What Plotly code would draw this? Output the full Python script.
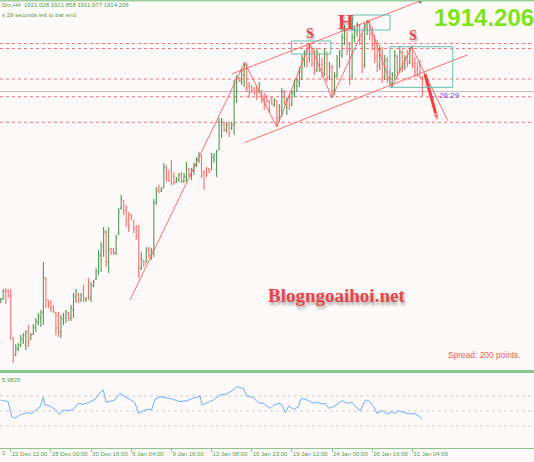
import plotly.graph_objects as go

# ---------------- data (XAUUSD H4) ----------------
opens = [1809, 1810.5, 1814.5, 1814.5, 1812, 1791, 1782.5, 1785.5, 1787.5, 1790,
         1787.5, 1794, 1790, 1793, 1796, 1799, 1801, 1803.5, 1820.5, 1810,
         1808.5, 1806.5, 1803.5, 1802, 1794, 1800, 1801, 1803.5, 1801, 1805,
         1811, 1813, 1810, 1815, 1810, 1817.5, 1811, 1817, 1820.5, 1824,
         1832, 1836.5, 1844, 1829, 1835.5, 1835, 1833.5, 1843, 1856, 1859.5,
         1855, 1850, 1852.5, 1849.5, 1846, 1842.5, 1826, 1830, 1829, 1835,
         1832.5, 1834.5, 1859, 1865, 1864.5, 1866, 1876, 1872.5, 1874, 1872,
         1869, 1870, 1873, 1869.5, 1871.5, 1875.5, 1872, 1874.5, 1877.5, 1880,
         1882, 1874, 1874, 1875.5, 1875, 1881, 1875, 1885, 1897.5, 1898,
         1895, 1897.5, 1896, 1897.5, 1915, 1921, 1919.5, 1922.5, 1927, 1917,
         1916.5, 1915.5, 1915, 1914, 1914.5, 1911.5, 1911.5, 1909, 1910.5, 1907.5,
         1909.5, 1901, 1905, 1914, 1906, 1911.5, 1908, 1913, 1917, 1919,
         1924, 1930, 1935, 1931, 1936, 1930, 1925, 1932.5, 1927.5, 1923.5,
         1932.5, 1921.5, 1926, 1915, 1922.5, 1930, 1932.5, 1941, 1945, 1935,
         1922, 1941, 1944, 1947, 1940, 1928, 1946, 1949, 1943, 1938,
         1932, 1927.5, 1934, 1922, 1930, 1921, 1918.5, 1922, 1931.5, 1925,
         1933.5, 1926.5, 1931.5, 1929, 1936, 1928.5, 1925, 1927, 1921.028]
highs = [1811, 1815.5, 1816, 1815.5, 1815.5, 1791.5, 1788, 1788.5, 1792.5, 1793.5,
         1795, 1797.5, 1793.5, 1798, 1801, 1803.5, 1805, 1829, 1821.5, 1810,
         1810, 1807.5, 1804, 1804, 1802.5, 1803.5, 1805, 1804, 1807.5, 1813.5,
         1815.5, 1813.5, 1813.5, 1817.5, 1811.5, 1821, 1819, 1820, 1826, 1835,
         1839, 1846.5, 1845, 1846.5, 1836, 1836, 1842.5, 1856, 1862.5, 1860,
         1857.5, 1854, 1853, 1850, 1847.5, 1847.5, 1834, 1830, 1836.5, 1836.5,
         1836, 1860.5, 1866.5, 1867.5, 1866.5, 1878.5, 1877.5, 1875, 1880, 1874,
         1871.5, 1873.5, 1874, 1873.5, 1879, 1876, 1876, 1878.5, 1881.5, 1884,
         1882.5, 1875, 1876.5, 1876, 1883.5, 1883.5, 1885, 1901, 1901, 1898.5,
         1899, 1898.5, 1899, 1920, 1922.5, 1921.5, 1926, 1929, 1928.5, 1919,
         1917.5, 1916.5, 1917.5, 1919, 1915, 1913.5, 1912.5, 1910, 1911.5, 1911,
         1910, 1908, 1916, 1915, 1911.5, 1913, 1915, 1920, 1921, 1926.5,
         1932.5, 1935, 1937.5, 1938.5, 1936.5, 1935, 1936, 1933.5, 1931, 1936,
         1934, 1929, 1927.5, 1924, 1932.5, 1935, 1943.5, 1947.5, 1946, 1939,
         1943.5, 1946.5, 1949, 1948, 1943.5, 1948.5, 1950, 1949.5, 1946.5, 1942.5,
         1940, 1937.5, 1936.5, 1932.5, 1931.5, 1925, 1924, 1935, 1932.5, 1936.5,
         1935, 1932.5, 1935, 1936.5, 1937.5, 1931.5, 1929, 1930, 1921.858]
lows = [1808.5, 1810, 1808, 1811, 1790, 1778.5, 1782, 1784.5, 1786.5, 1788,
        1785, 1786.5, 1790, 1792.5, 1794, 1797.5, 1796.5, 1797.5, 1806, 1806,
        1804, 1803.5, 1792.5, 1791.5, 1791, 1797.5, 1798.5, 1799.5, 1799.5, 1801,
        1808.5, 1808.5, 1809, 1809, 1809, 1810, 1809, 1816.5, 1820, 1822.5,
        1824, 1831.5, 1826.5, 1823.5, 1832.5, 1832.5, 1832.5, 1842.5, 1855, 1852.5,
        1846.5, 1844, 1850, 1843.5, 1840, 1821, 1825, 1826.5, 1828.5, 1831,
        1830, 1831.5, 1857.5, 1863.5, 1864, 1866, 1869, 1869, 1867.5, 1867.5,
        1868.5, 1869, 1868.5, 1868.5, 1869, 1871.5, 1870, 1872.5, 1876.5, 1878.5,
        1871, 1865, 1871.5, 1873.5, 1875, 1878.5, 1871.5, 1885, 1891, 1894,
        1893.5, 1891.5, 1895, 1892.5, 1908.5, 1919, 1917.5, 1916.5, 1914, 1911,
        1913.5, 1912.5, 1910, 1913.5, 1908.5, 1905, 1908.5, 1903.5, 1907.5, 1906.5,
        1896.5, 1899, 1901.5, 1907.5, 1902.5, 1905, 1907, 1911.5, 1914, 1916.5,
        1920, 1926.5, 1926.5, 1929, 1926.5, 1922.5, 1924, 1924, 1921, 1922,
        1919, 1920, 1911, 1912.5, 1921, 1926, 1931, 1937.5, 1932.5, 1917.5,
        1920, 1939, 1941.5, 1937.5, 1923.5, 1926, 1942.5, 1940, 1935, 1928.5,
        1924, 1925, 1918.5, 1920, 1918.5, 1917.5, 1916.5, 1920, 1921.5, 1923.5,
        1924, 1925, 1926.5, 1928, 1926, 1921.5, 1921.5, 1921, 1911.977]
closes = [1810.5, 1814.5, 1810, 1812, 1792.5, 1782.5, 1786, 1787.5, 1791, 1792.5,
          1793.5, 1789, 1792.5, 1796.5, 1799.5, 1802, 1804, 1821, 1810, 1807.5,
          1805.5, 1804.5, 1796, 1794, 1801, 1802.5, 1804, 1801, 1806, 1812,
          1814.5, 1810, 1812.5, 1810.5, 1811, 1811.5, 1817.5, 1819, 1824.5, 1832.5,
          1837.5, 1844, 1829, 1835, 1834, 1833.5, 1841, 1854, 1860.5, 1854.5,
          1849, 1846.5, 1851, 1845.5, 1842, 1826, 1831, 1828, 1835, 1832.5,
          1834.5, 1858.5, 1864.5, 1864, 1865.5, 1876.5, 1871, 1870, 1868.5, 1869,
          1870.5, 1872.5, 1869.5, 1872, 1877, 1872.5, 1875, 1877.5, 1880, 1882.5,
          1872.5, 1867, 1872.5, 1874, 1881.5, 1882.5, 1884, 1899, 1899.5, 1895,
          1897.5, 1893.5, 1898, 1917, 1921, 1919.5, 1924.5, 1927.5, 1916, 1914,
          1914.5, 1913.5, 1912, 1917.5, 1910, 1907.5, 1909.5, 1905, 1908, 1910,
          1901, 1906.5, 1914, 1909, 1910, 1907, 1913.5, 1918.5, 1920, 1925,
          1931, 1933.5, 1929, 1936.5, 1928.5, 1925, 1934, 1926, 1922.5, 1934,
          1921, 1927, 1914, 1922, 1931, 1933.5, 1941.5, 1946, 1935, 1921,
          1941.5, 1945, 1947.5, 1940, 1927.5, 1946.5, 1949, 1942.5, 1937.5, 1931,
          1927, 1935, 1921, 1930, 1920, 1918.5, 1922.5, 1932.5, 1924, 1934,
          1926, 1931, 1928.5, 1935, 1928, 1924, 1922.5, 1921.25, 1914.206]
bar_idx = list(range(len(opens)))
assert len(opens) == len(highs) == len(lows) == len(closes) == 169

tick_idx = [4, 20, 36, 52, 68, 84, 100, 116, 132, 148, 164]
tick_text = ["22 Dec 12:00", "28 Dec 00:00", "30 Dec 16:00", "5 Jan 04:00",
             "9 Jan 16:00", "12 Jan 08:00", "16 Jan 23:00", "19 Jan 12:00",
             "24 Jan 00:00", "26 Jan 16:00", "31 Jan 04:00"]

levels = [1938.25, 1935.75, 1920.5, 1911.65, 1898.85]
bid = 1914.206

steep_idx, steep_px = [51.5, 97.3], [1810, 1929]
chup_idx, chup_px = [92.0, 167.1], [1923, 1959.5]
chlo_idx, chlo_px = [97.1, 185.8], [1888.65, 1932.5]
zig_idx = [97.3, 110, 123.2, 131.9, 146.3, 155.8, 163.8, 178.2]
zig_px = [1928.5, 1896.5, 1938.5, 1911, 1950, 1916.5, 1936.5, 1899.5]
arrow_idx, arrow_px = [169.0, 174.2], [1923, 1899]
box_x0 = [115.9, 140.2, 155.1]
box_x1 = [131.5, 155.1, 180.1]
box_y0 = [1933, 1945, 1916.35]
box_y1 = [1939.5, 1952.5, 1936.65]
pat_text = ["S", "H", "S"]
pat_idx = [123.2, 137.6, 164.1]
pat_px = [1943.2, 1949.25, 1942.35]
pat_size = [14, 20, 14]

ind_idx = [0, 3.0, 4.4, 5.7, 7.7, 10.4, 12.4, 13.7, 15.7, 17.0, 17.6, 19.6, 21.6, 23.4,
           24.9, 26.9, 28.9, 30.9, 32.9, 34.9, 37.6, 39.6, 40.9, 42.0, 44.2, 45.5,
           47.5, 49.5, 51.5, 53.5, 54.8, 56.2, 58.2, 60.2, 61.5, 63.5, 66.1, 68.8,
           71.4, 74.1, 76.7, 79.4, 80.3, 82.1, 84.7, 87.4, 90.0, 92.7, 94.0, 96.7,
           98.0, 100.6, 102.6, 104.6, 107.4, 108.8, 110.8, 112.1, 113.4, 114.7,
           116.7, 118.7, 119.4, 120.7, 122.7, 124.7, 126.0, 128.0, 129.3, 130.7,
           132.7, 136.0, 138.0, 140.0, 142.0, 143.3, 145.3, 146.6, 148.6, 149.9,
           151.9, 153.9, 155.9, 157.2, 158.6, 160.6, 162.6, 164.6, 166.5, 168]
ind_val = [64.7, 62.5, 42.5, 40.3, 44.7, 47.8, 46.9, 50.5, 55.8, 68.2, 58.0, 56.7, 52.2, 45.6,
           51.3, 50.5, 52.2, 60.2, 58.9, 61.1, 65.6, 74.5, 78.0, 61.6, 63.4, 64.7,
           73.6, 69.1, 65.6, 61.1, 46.9, 49.1, 52.2, 52.2, 65.6, 69.1, 67.8, 65.6,
           62.5, 63.8, 66.9, 70.0, 58.0, 61.1, 64.7, 71.4, 72.7, 78.0, 82.5, 80.2,
           70.0, 68.2, 61.1, 60.2, 53.6, 58.0, 60.2, 58.0, 47.8, 56.7,
           52.2, 55.8, 65.6, 66.9, 63.8, 60.2, 62.0, 59.4, 60.2, 53.6,
           55.8, 63.8, 60.2, 61.6, 53.6, 50.5, 64.7, 63.8, 55.8, 46.9,
           50.5, 46.0, 49.1, 46.9, 50.5, 48.2, 46.0, 46.9, 43.4, 38.9]
ind_levels = [70, 50, 30]

# ---------------- figure ----------------
BG = "#fffafa"
GREEN_T = "#4f9f4f"
PLOT_H = 448.0
main_bottom = 1 - 370 / PLOT_H
ind_top = 1 - 373 / PLOT_H

fig = go.Figure()

fig.add_trace(go.Ohlc(
    x=bar_idx, open=opens, high=highs, low=lows, close=closes,
    increasing=dict(line=dict(color="rgba(55,135,55,0.85)", width=1.1)),
    decreasing=dict(line=dict(color="rgba(255,95,95,0.9)", width=1.1)),
    tickwidth=0.45, xaxis="x", yaxis="y", hoverinfo="skip", showlegend=False))

line_red = dict(color="rgba(255,85,85,0.85)", width=1)
for xs, ys in [(steep_idx, steep_px), (chup_idx, chup_px), (chlo_idx, chlo_px), (zig_idx, zig_px)]:
    fig.add_trace(go.Scatter(x=xs, y=ys, mode="lines", line=line_red,
                             xaxis="x", yaxis="y", hoverinfo="skip", showlegend=False))

fig.add_trace(go.Scatter(
    x=arrow_idx, y=arrow_px, mode="lines+markers",
    line=dict(color="#ff3b3b", width=3),
    marker=dict(symbol="arrow", angleref="previous", size=[0, 9], color="#ff3b3b"),
    xaxis="x", yaxis="y", hoverinfo="skip", showlegend=False))

# chart-shift marker at the top of the upper channel end
fig.add_trace(go.Scatter(x=[chup_idx[1]], y=[chup_px[1]], mode="markers",
                         marker=dict(symbol="triangle-down", size=6, color="#707070"),
                         xaxis="x", yaxis="y", hoverinfo="skip", showlegend=False))

fig.add_trace(go.Scatter(x=ind_idx, y=ind_val, mode="lines",
                         line=dict(color="#6aaeff", width=1),
                         xaxis="x2", yaxis="y2", hoverinfo="skip", showlegend=False))

shapes = []
for lv in levels:
    shapes.append(dict(type="line", xref="paper", yref="y", x0=0, x1=1, y0=lv, y1=lv,
                       line=dict(color="rgba(255,90,90,0.85)", width=1, dash="dot"),
                       layer="below"))
shapes.append(dict(type="line", xref="paper", yref="y", x0=0, x1=1, y0=bid, y1=bid,
                   line=dict(color="#bdbdbd", width=1), layer="below"))
for a, b, c, d in zip(box_x0, box_x1, box_y0, box_y1):
    shapes.append(dict(type="rect", xref="x", yref="y", x0=a, x1=b, y0=c, y1=d,
                       line=dict(color="#62c0b2", width=1), fillcolor="rgba(0,0,0,0)"))
for lv in ind_levels:
    shapes.append(dict(type="line", xref="paper", yref="y2", x0=0, x1=1, y0=lv, y1=lv,
                       line=dict(color="#cdcdcd", width=1, dash="dot"), layer="below"))
# window borders
shapes.append(dict(type="rect", xref="paper", yref="paper", x0=0, x1=1,
                   y0=1 - 1.5 / PLOT_H, y1=1, line=dict(width=0), fillcolor="#9ccf9c"))
shapes.append(dict(type="rect", xref="paper", yref="paper", x0=0, x1=1,
                   y0=ind_top, y1=main_bottom, line=dict(width=0), fillcolor="#8cc88c"))

shadow = "1px 2px 2px rgba(0,0,0,0.35)"
ann = []
for t, xi, yp, sz in zip(pat_text, pat_idx, pat_px, pat_size):
    ann.append(dict(x=xi, y=yp, xref="x", yref="y", text=t, showarrow=False,
                    xanchor="center", yanchor="middle",
                    font=dict(family="Liberation Serif", size=sz, color="#e8434c",
                              weight="bold", shadow=shadow)))


def paper_text(px, py, text, font, xanchor="center"):
    ann.append(dict(x=px / 534, y=1 - py / PLOT_H, xref="paper", yref="paper",
                    xanchor=xanchor, yanchor="middle", text=text, showarrow=False,
                    font=font))


paper_text(484, 17, "1914.206",
           dict(family="Liberation Sans", size=24, color="#7ee41a", weight="bold"))
paper_text(0, 5.3, "Dm,H4  1921.028 1921.858 1911.977 1914.206",
           dict(family="Liberation Sans", size=6, color=GREEN_T), "left")
paper_text(0, 14.7, "s 29 seconds left to bar end",
           dict(family="Liberation Sans", size=6, color=GREEN_T), "left")
paper_text(336, 295, "Blogngoaihoi.net",
           dict(family="Liberation Serif", size=19, color="#e8444a", weight="bold",
                shadow="1px 3px 3px rgba(0,0,0,0.35)"))
paper_text(484, 355, "Spread: 200 points.",
           dict(family="Liberation Sans", size=8.4, color="#f05a5a"))
paper_text(426.5, 95.8, "← 26:29",
           dict(family="Liberation Sans", size=8, color="#5a5aff"), "left")
paper_text(0, 380, "5.9825",
           dict(family="Liberation Sans", size=6, color=GREEN_T), "left")
paper_text(0, 453.3, "2",
           dict(family="Liberation Sans", size=6, color=GREEN_T), "left")

xr = [-0.7 / 2.51, (534 - 0.7) / 2.51]
fig.update_layout(
    width=534, height=462,
    margin=dict(l=0, r=0, t=0, b=14, pad=0, autoexpand=False),
    paper_bgcolor=BG, plot_bgcolor=BG,
    showlegend=False,
    shapes=shapes, annotations=ann,
    xaxis=dict(domain=[0, 1], anchor="y", range=xr, showgrid=False, zeroline=False,
               showticklabels=False, ticks="", automargin=False,
               rangeslider=dict(visible=False)),
    yaxis=dict(domain=[main_bottom, 1], range=[1775, 1960], showgrid=False,
               zeroline=False, showticklabels=False, ticks="", automargin=False),
    xaxis2=dict(domain=[0, 1], anchor="y2", matches="x", range=xr, showgrid=False,
                zeroline=False, tickmode="array", tickvals=tick_idx, ticktext=tick_text,
                ticks="outside", ticklen=3, tickcolor="#8cc88c", tickangle=0,
                automargin=False, ticklabelposition="outside right",
                tickfont=dict(family="Liberation Sans", size=6, color=GREEN_T),
                showline=True, linecolor="#8cc88c", linewidth=1),
    yaxis2=dict(domain=[0, ind_top], range=[0.67, 100.67], showgrid=False,
                zeroline=False, showticklabels=False, ticks="", automargin=False),
)

fig.write_html("out.html", config={"displayModeBar": False},
               post_script="document.body.style.margin='0';document.body.style.padding='0';")
